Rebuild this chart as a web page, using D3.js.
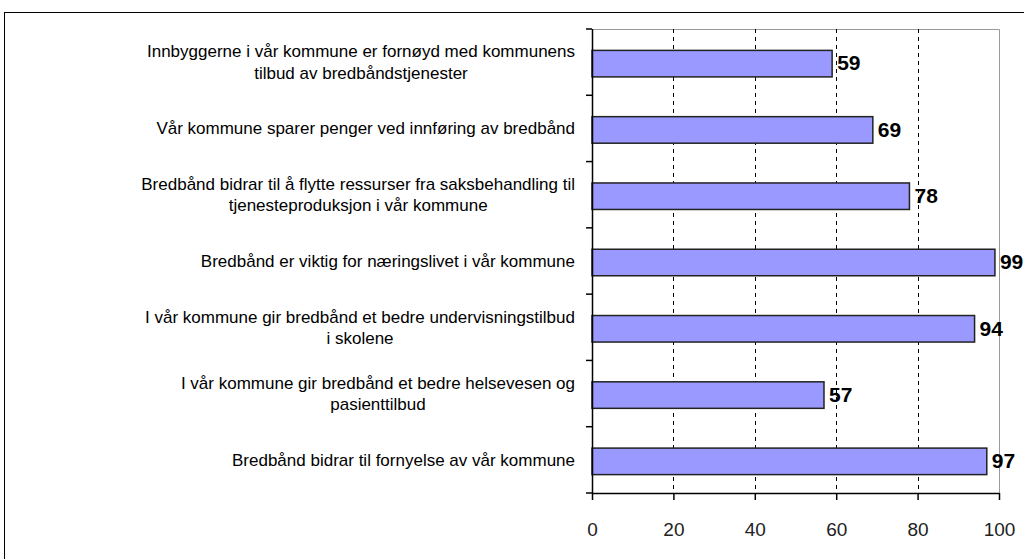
<!DOCTYPE html>
<html>
<head>
<meta charset="utf-8">
<script src="https://cdn.jsdelivr.net/npm/d3@7"></script>
<style>
  body { margin: 0; background: #fff; }
  svg { display: block; }
</style>
</head>
<body>
<div id="chart"></div>
<script>
// statements, top to bottom
var labels = [
    ["Innbyggerne i vår kommune er fornøyd med kommunens", "tilbud av bredbåndstjenester"],
    ["Vår kommune sparer penger ved innføring av bredbånd"],
    ["Bredbånd bidrar til å flytte ressurser fra saksbehandling til", "tjenesteproduksjon i vår kommune"],
    ["Bredbånd er viktig for næringslivet i vår kommune"],
    ["I vår kommune gir bredbånd et bedre undervisningstilbud", "i skolene"],
    ["I vår kommune gir bredbånd et bedre helsevesen og", "pasienttilbud"],
    ["Bredbånd bidrar til fornyelse av vår kommune"]
];
var values = [59, 69, 78, 99, 94, 57, 97];
var xTicks = [0, 20, 40, 60, 80, 100];

var svg = d3.select("#chart").append("svg")
    .attr("width", 1024)
    .attr("height", 559);

var margin = { top: 29, left: 592 },
    width = 407,
    height = 464;

var font = "Liberation Sans, Arial, sans-serif";

// outer frame
svg.append("rect")
    .attr("x", 4.5).attr("y", 12.5)
    .attr("width", 1040).attr("height", 600)
    .attr("fill", "none")
    .attr("stroke", "#000")
    .attr("stroke-width", 1);

var g = svg.append("g").attr("transform", "translate(" + margin.left + "," + margin.top + ")");

var x = d3.scaleLinear().domain([0, 100]).range([0, width]);
var y = d3.scaleBand()
    .domain(d3.range(values.length))
    .range([0, height])
    .paddingInner(0.6)
    .paddingOuter(0.3);
var band = d3.scaleBand().domain(d3.range(values.length)).range([0, height]);

// plot frame (top, right)
g.append("path")
    .attr("d", "M0,0.5H" + (width + 0.5) + "V" + height)
    .attr("fill", "none")
    .attr("stroke", "#999")
    .attr("stroke-width", 1);

// dashed grid
g.selectAll(".grid")
    .data(xTicks.filter(d => d > 0 && d < 100))
    .enter().append("line")
    .attr("class", "grid")
    .attr("x1", d => Math.round(x(d)) + 0.5)
    .attr("x2", d => Math.round(x(d)) + 0.5)
    .attr("y1", 0)
    .attr("y2", height)
    .attr("stroke", "#000")
    .attr("stroke-width", 1)
    .attr("stroke-dasharray", "4,4");

// bars
g.selectAll(".bar")
    .data(values)
    .enter().append("rect")
    .attr("class", "bar")
    .attr("x", 0)
    .attr("y", (d, i) => y(i) + 1.5)
    .attr("width", d => x(d))
    .attr("height", y.bandwidth())
    .attr("fill", "#9999ff")
    .attr("stroke", "#222")
    .attr("stroke-width", 1.5);

// value labels
g.selectAll(".val")
    .data(values)
    .enter().append("text")
    .attr("class", "val")
    .attr("x", d => x(d) + 5)
    .attr("y", (d, i) => y(i) + 1.5 + y.bandwidth() / 2)
    .attr("dy", "0.32em")
    .attr("font-family", font)
    .attr("font-weight", "bold")
    .attr("font-size", 21)
    .attr("fill", "#000")
    .text(d => d);

// y axis
var yAxis = g.append("g");
yAxis.append("line")
    .attr("x1", 0.5).attr("x2", 0.5)
    .attr("y1", 0).attr("y2", height)
    .attr("stroke", "#000").attr("stroke-width", 1.5);
yAxis.selectAll(".ytick")
    .data(d3.range(values.length + 1))
    .enter().append("line")
    .attr("class", "ytick")
    .attr("x1", -6).attr("x2", 0)
    .attr("y1", i => i * band.step())
    .attr("y2", i => i * band.step())
    .attr("stroke", "#000").attr("stroke-width", 1.5);

// x axis
var xAxis = g.append("g")
    .attr("transform", "translate(0," + height + ")")
    .call(d3.axisBottom(x).tickValues(xTicks).tickSize(7).tickSizeOuter(0));
xAxis.select(".domain").attr("stroke-width", 1.5);
xAxis.selectAll(".tick line").attr("stroke-width", 1.5);
xAxis.selectAll(".tick text")
    .attr("font-family", font)
    .attr("font-size", 19)
    .attr("y", 0)
    .attr("dy", 0)
    .attr("transform", "translate(0,43)")
    .attr("fill", "#222");

// category labels: centered block, right edge at 575
labels.forEach(function(lines, i) {
    var cy = margin.top + band(i) + band.bandwidth() / 2;
    var lh = 21.5;
    var t = svg.append("text")
        .attr("font-family", font)
        .attr("font-size", 17)
        .attr("fill", "#000")
        .attr("text-anchor", "middle");
    var spans = lines.map(function(s, k) {
        return t.append("tspan")
            .attr("y", cy + 6 + (k - (lines.length - 1) / 2) * lh)
            .text(s);
    });
    var maxW = d3.max(spans, s => s.node().getComputedTextLength());
    spans.forEach(s => s.attr("x", 575 - maxW / 2));
});
</script>
</body>
</html>
